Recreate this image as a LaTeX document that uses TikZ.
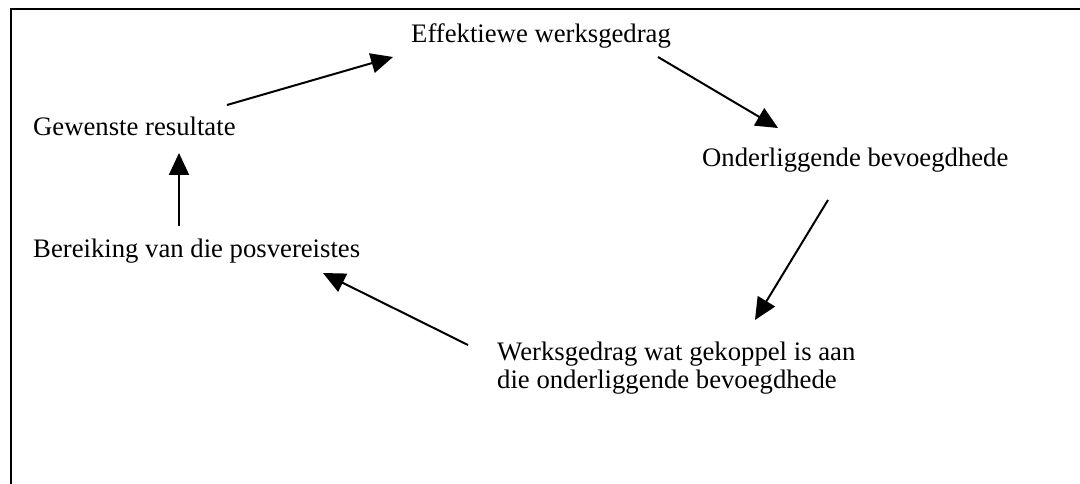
\documentclass[tikz,border=0pt]{standalone}
\usepackage{fontspec}
\setmainfont{Liberation Serif}
\usetikzlibrary{arrows.meta}
\begin{document}
\begin{tikzpicture}[x=1pt,y=-1pt,
  lbl/.style={anchor=base west,inner sep=0pt,font=\fontsize{26.7}{30}\selectfont},
  arr/.style={line width=2pt,-{Triangle[length=22pt,width=20pt]}},
  frame/.style={line width=2.2pt,line cap=rect}]
\useasboundingbox (0,0) rectangle (1080,484);
\draw[frame] (11,484) -- (11,9) -- (1082,9);
\node[lbl] (eff) at (411,43) {Effektiewe werksgedrag};
\node[lbl] (gew) at (33,136) {Gewenste resultate};
\node[lbl] (ond) at (702,167) {Onderliggende bevoegdhede};
\node[lbl] (ber) at (33,258) {Bereiking van die posvereistes};
\node[lbl] (wer) at (497,360) {Werksgedrag wat gekoppel is aan};
\node[lbl] (wer2) at (497,388) {die onderliggende bevoegdhede};
\coordinate (a1s) at (227,105); \coordinate (a1e) at (393,57);
\coordinate (a2s) at (658,57);  \coordinate (a2e) at (778,128);
\coordinate (a3s) at (828,200); \coordinate (a3e) at (755,320);
\coordinate (a4s) at (468,345); \coordinate (a4e) at (323,273);
\coordinate (a5s) at (179,226); \coordinate (a5e) at (179,153);
\draw[arr] (a1s) -- (a1e);
\draw[arr] (a2s) -- (a2e);
\draw[arr] (a3s) -- (a3e);
\draw[arr] (a4s) -- (a4e);
\draw[arr] (a5s) -- (a5e);
\end{tikzpicture}
\end{document}
